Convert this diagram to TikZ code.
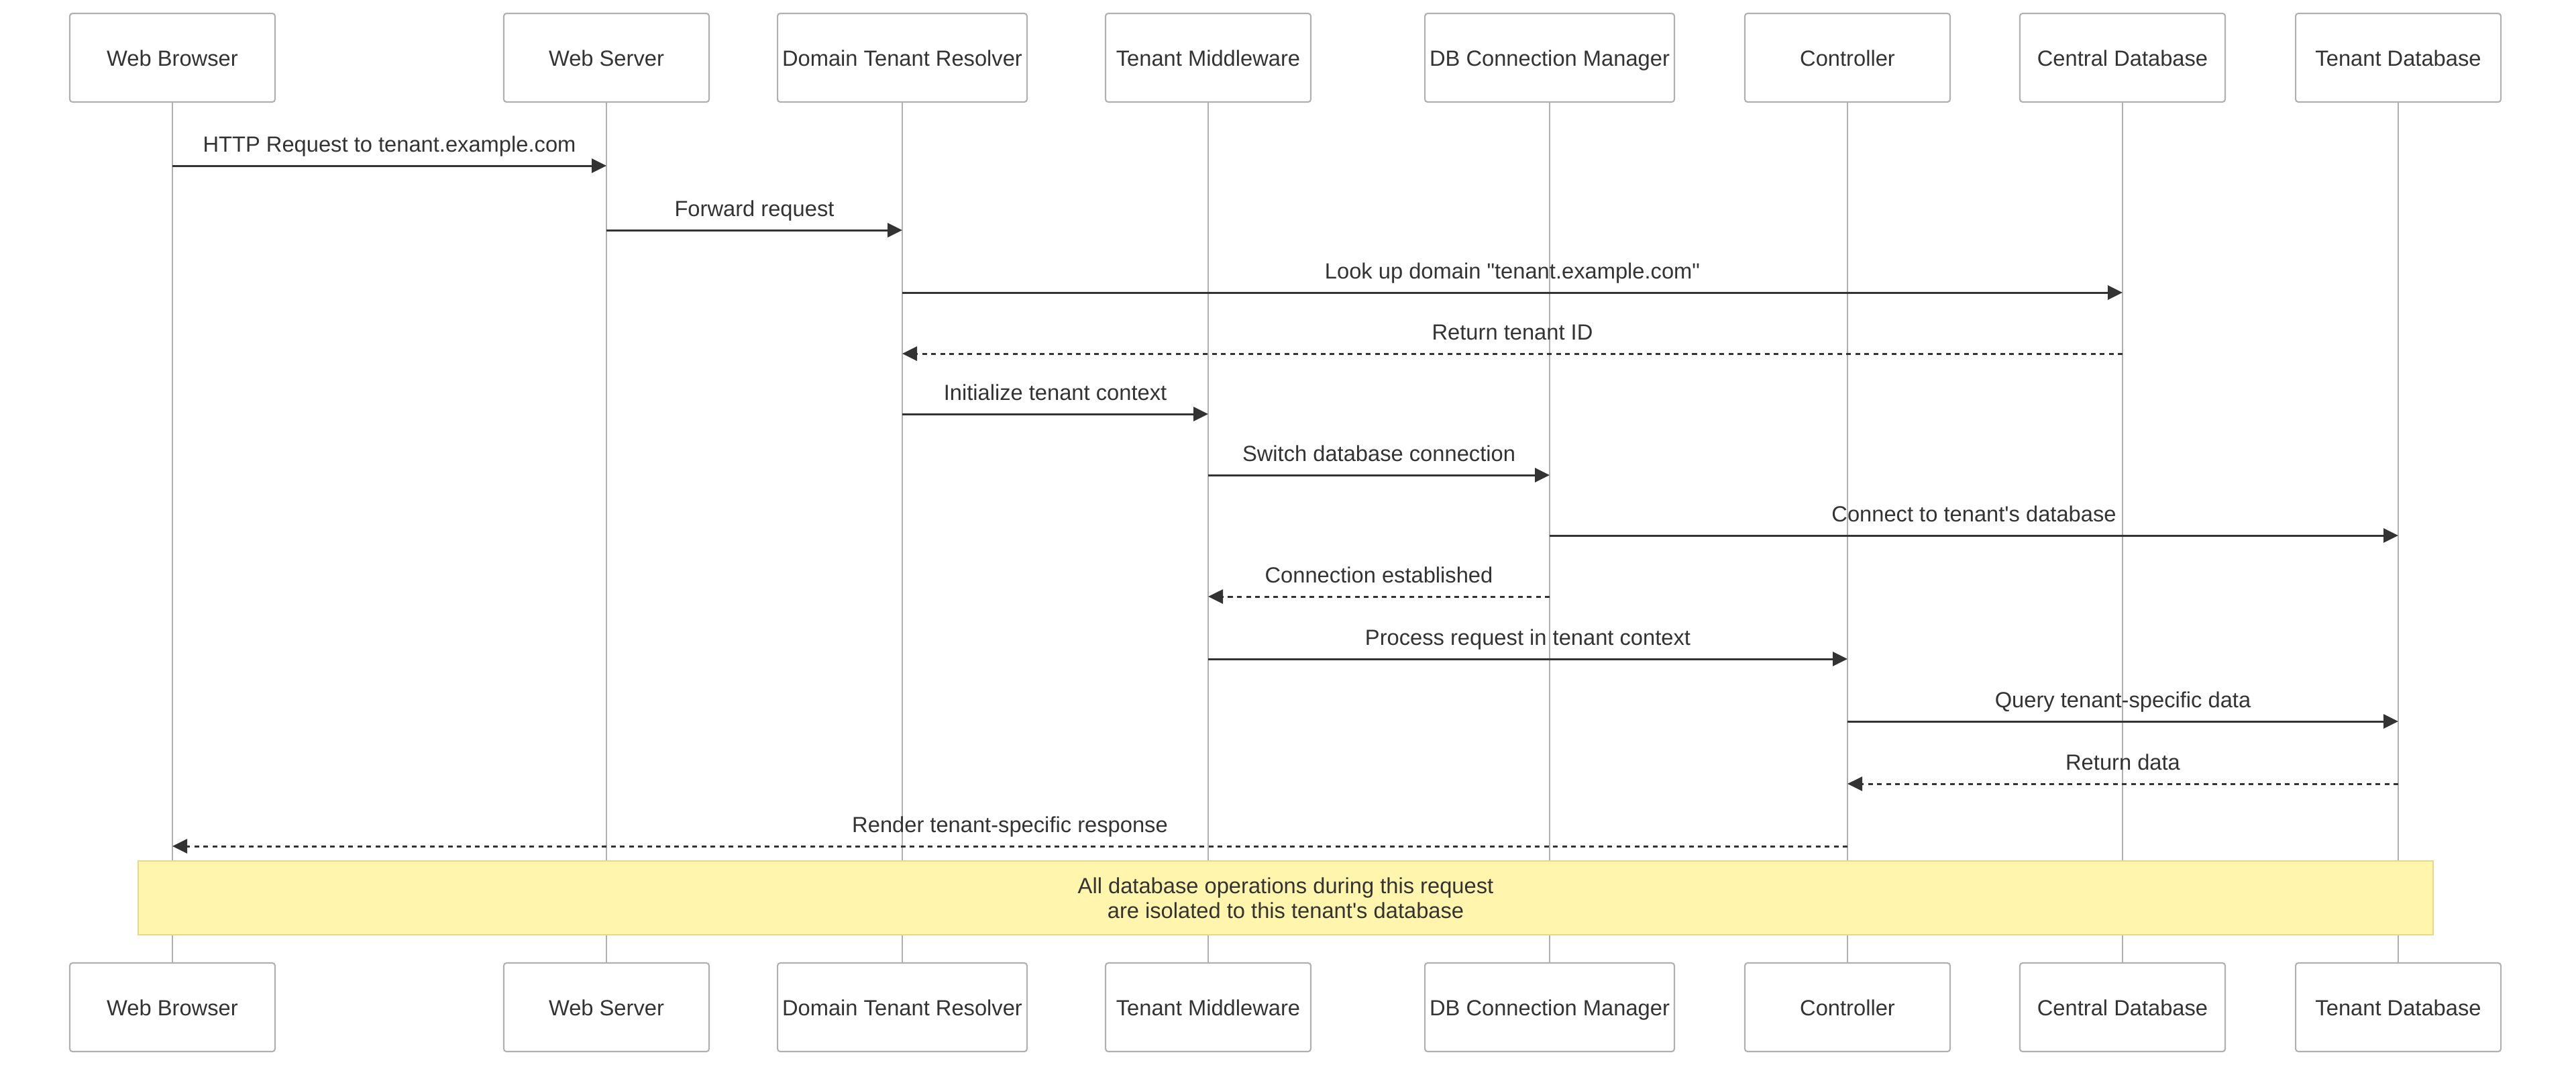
\documentclass[tikz,border=0pt]{standalone}
\usepackage{fontspec}
\setmainfont{Liberation Sans}
\usetikzlibrary{arrows.meta}
\definecolor{ink}{HTML}{333333}
\definecolor{rule}{HTML}{B0B0B0}
\definecolor{notefill}{HTML}{FFF5AD}
\definecolor{noteline}{HTML}{E6DA8A}

\begin{document}
\begin{tikzpicture}[
	font=\fontsize{9.3}{10.5}\selectfont, text=ink,
	actor/.style={draw=rule, line width=0.6pt, fill=white, rounded corners=0.04cm,
		minimum width=3.06cm, minimum height=1.32cm, inner xsep=0.07cm,
		text height=0.24cm, text depth=0cm},
	lifeline/.style={draw=rule, line width=0.8pt},
	call/.style={draw=ink, line width=0.85pt, -{Triangle[length=0.22cm,width=0.21cm]}},
	reply/.style={call, dash pattern=on 0.07cm off 0.065cm},
	msg/.style={midway, anchor=base, yshift=0.21cm},
	note/.style={draw=noteline, fill=notefill, line width=0.6pt, align=center}
	]
	\useasboundingbox (0,0) rectangle (38.4,-15.95);

	% participants (top)
	\node[actor] (wbT) at (2.57,-0.86) {Web Browser};
	\node[actor] (wsT) at (9.04,-0.86) {Web Server};
	\node[actor] (dtrT) at (13.45,-0.86) {Domain Tenant Resolver};
	\node[actor] (tmT) at (18.01,-0.86) {Tenant Middleware};
	\node[actor] (dbcT) at (23.10,-0.86) {DB Connection Manager};
	\node[actor] (ctlT) at (27.54,-0.86) {Controller};
	\node[actor] (cdbT) at (31.64,-0.86) {Central Database};
	\node[actor] (tdbT) at (35.75,-0.86) {Tenant Database};

	% participants (bottom)
	\node[actor] (wbB) at (2.57,-15.01) {Web Browser};
	\node[actor] (wsB) at (9.04,-15.01) {Web Server};
	\node[actor] (dtrB) at (13.45,-15.01) {Domain Tenant Resolver};
	\node[actor] (tmB) at (18.01,-15.01) {Tenant Middleware};
	\node[actor] (dbcB) at (23.10,-15.01) {DB Connection Manager};
	\node[actor] (ctlB) at (27.54,-15.01) {Controller};
	\node[actor] (cdbB) at (31.64,-15.01) {Central Database};
	\node[actor] (tdbB) at (35.75,-15.01) {Tenant Database};

	% lifelines
	\draw[lifeline] (wbT) -- (wbB);
	\draw[lifeline] (wsT) -- (wsB);
	\draw[lifeline] (dtrT) -- (dtrB);
	\draw[lifeline] (tmT) -- (tmB);
	\draw[lifeline] (dbcT) -- (dbcB);
	\draw[lifeline] (ctlT) -- (ctlB);
	\draw[lifeline] (cdbT) -- (cdbB);
	\draw[lifeline] (tdbT) -- (tdbB);

	% message rows
	\coordinate (r1) at (0,-2.47);
	\coordinate (r2) at (0,-3.43);
	\coordinate (r3) at (0,-4.36);
	\coordinate (r4) at (0,-5.27);
	\coordinate (r5) at (0,-6.17);
	\coordinate (r6) at (0,-7.08);
	\coordinate (r7) at (0,-7.98);
	\coordinate (r8) at (0,-8.89);
	\coordinate (r9) at (0,-9.82);
	\coordinate (r10) at (0,-10.75);
	\coordinate (r11) at (0,-11.68);
	\coordinate (r12) at (0,-12.61);

	\draw[call] (wbT |- r1) -- (wsT |- r1) node[msg] {HTTP Request to tenant.example.com};
	\draw[call] (wsT |- r2) -- (dtrT |- r2) node[msg] {Forward request};
	\draw[call] (dtrT |- r3) -- (cdbT |- r3) node[msg] {Look up domain \textquotedbl tenant.example.com\textquotedbl};
	\draw[reply] (cdbT |- r4) -- (dtrT |- r4) node[msg] {Return tenant ID};
	\draw[call] (dtrT |- r5) -- (tmT |- r5) node[msg] {Initialize tenant context};
	\draw[call] (tmT |- r6) -- (dbcT |- r6) node[msg] {Switch database connection};
	\draw[call] (dbcT |- r7) -- (tdbT |- r7) node[msg] {Connect to tenant\textquotesingle s database};
	\draw[reply] (dbcT |- r8) -- (tmT |- r8) node[msg] {Connection established};
	\draw[call] (tmT |- r9) -- (ctlT |- r9) node[msg] {Process request in tenant context};
	\draw[call] (ctlT |- r10) -- (tdbT |- r10) node[msg] {Query tenant-specific data};
	\draw[reply] (tdbT |- r11) -- (ctlT |- r11) node[msg] {Return data};
	\draw[reply] (ctlT |- r12) -- (wbT |- r12) node[msg] {Render tenant-specific response};

	% note over all participants
	\node[note, minimum width=34.21cm, minimum height=1.10cm] (isolation) at (19.165,-13.38)
		{All database operations during this request\\are isolated to this tenant\textquotesingle s database};
\end{tikzpicture}
\end{document}
